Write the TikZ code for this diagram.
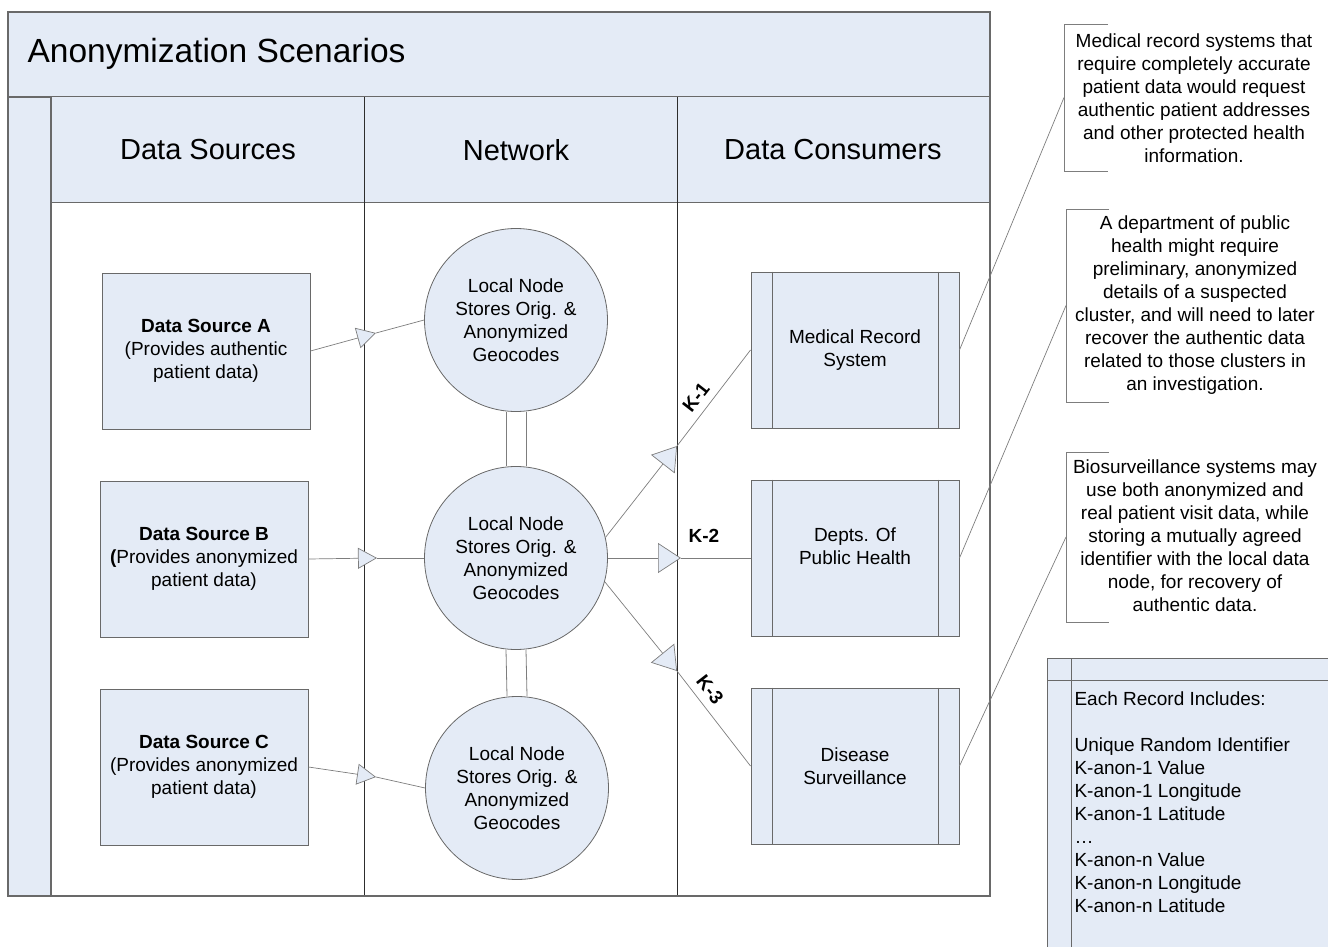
\documentclass[tikz,border=0pt]{standalone}
\usepackage{fontspec}
\setmainfont{Liberation Sans}
\usetikzlibrary{arrows.meta}
\definecolor{paleblue}{RGB}{228,235,246}
\definecolor{edgegray}{RGB}{105,105,105}
\definecolor{linegray}{RGB}{125,125,125}
\definecolor{lanegray}{RGB}{45,45,45}
\newcommand{\bodyfont}{\fontsize{19}{23}\selectfont}
\tikzstyle{srcbox}=[rectangle,draw=edgegray,fill=paleblue,line width=1pt,
                    minimum width=208pt,minimum height=156pt,
                    align=center,font=\bodyfont]
\tikzstyle{localnode}=[circle,draw=edgegray,fill=paleblue,line width=0.8pt,
                       inner sep=0pt,minimum size=183pt,
                       align=center,font=\bodyfont]
\tikzstyle{flow}=[draw=linegray,line width=0.7pt]
\tikzstyle{srcflow}=[flow,-{Triangle[length=19pt,width=21pt,fill=paleblue]}]
\tikzstyle{kflow}=[flow,-{Triangle[length=23pt,width=30pt,fill=paleblue]}]
\tikzstyle{klabel}=[font=\bfseries\fontsize{19}{22}\selectfont,inner sep=1pt]
\tikzstyle{header}=[font=\fontsize{29}{34}\selectfont]
\tikzstyle{note}=[align=center,font=\bodyfont]

\begin{document}
\begin{tikzpicture}[x=1pt,y=-1pt]
    \clip (0,0) rectangle (1328,947);
    % pool and lanes
    \draw[edgegray,fill=paleblue,line width=1.2pt] (8,12) rectangle (990,97);
    \draw[edgegray,fill=paleblue,line width=1.2pt] (8,97) rectangle (51,896);
    \draw[edgegray,fill=paleblue,line width=1pt] (51,97) rectangle (990,202);
    \draw[lanegray,line width=0.8pt] (364,97) -- (364,896) (677,97) -- (677,896);
    \draw[edgegray,line width=1.2pt] (8,12) rectangle (990,896);
    \node (title) at (24,54) [anchor=west,font=\fontsize{33.5}{38}\selectfont]
        {Anonymization Scenarios};
    \node (hsrc) at (208,150) [header]{Data Sources};
    \node (hnet) at (516,150) [header]{Network};
    \node (hcon) at (833,150) [header]{Data Consumers};

    \node (srcA) at (206,351) [srcbox]{\textbf{Data Source A}\\
        (Provides authentic\\ patient data)};
    \node (srcB) at (204,559) [srcbox]{\textbf{Data Source B}\\
        \textbf{(}Provides anonymized\\ patient data)};
    \node (srcC) at (204,767) [srcbox]{\textbf{Data Source C}\\
        (Provides anonymized\\ patient data)};

    \node (lnA) at (516,320) [localnode]{Local Node\\ Stores Orig. \&\\
        Anonymized\\ Geocodes};
    \node (lnB) at (516,558) [localnode]{Local Node\\ Stores Orig. \&\\
        Anonymized\\ Geocodes};
    \node (lnC) at (517,788) [localnode]{Local Node\\ Stores Orig. \&\\
        Anonymized\\ Geocodes};

    \node (med) at (855,350) [srcbox]{Medical Record\\ System};
    \node (dph) at (855,558) [srcbox]{Depts. Of\\ Public Health\\ ~};
    \node (dis) at (855,766) [srcbox]{Disease\\ Surveillance};
    \foreach \n in {med,dph,dis} {
        \draw[edgegray,line width=0.8pt] ([xshift=22pt]\n.north west)
            -- ([xshift=22pt]\n.south west);
        \draw[edgegray,line width=0.8pt] ([xshift=-21pt]\n.north east)
            -- ([xshift=-21pt]\n.south east);
    }

    \foreach \dx in {-10,10} {
        \draw[flow,line width=0.8pt] ([xshift=\dx pt]lnA.south)
            -- ([xshift=\dx pt]lnB.north);
        \draw[flow,line width=0.8pt] ([xshift=\dx pt]lnB.south)
            -- ([xshift=\dx pt]lnC.north);
    }

    \coordinate (tipA) at (376,333);
    \coordinate (tipB) at (377,558);
    \coordinate (tipC) at (376,777);
    \draw[srcflow] (srcA.east) -- (tipA);
    \draw[flow] (tipA) -- (lnA.west);
    \draw[srcflow] (srcB.east) -- (tipB);
    \draw[flow] (tipB) -- (lnB.west);
    \draw[srcflow] (srcC.east) -- (tipC);
    \draw[flow] (tipC) -- (lnC.west);

    \coordinate (tipK1) at (677,446);
    \coordinate (tipK2) at (681,558);
    \coordinate (tipK3) at (677,671);
    \draw[kflow] (lnB.13) -- (tipK1);
    \draw[flow] (tipK1) -- (med.west);
    \draw[kflow] (lnB.east) -- (tipK2);
    \draw[flow] (tipK2) -- (dph.west);
    \draw[kflow] (lnB.-15) -- (tipK3);
    \draw[flow] (tipK3) -- (dis.west);
    \node (k1) at (696,397) [klabel,rotate=52]{K-1};
    \node (k2) at (704,536) [klabel]{K-2};
    \node (k3) at (710,690) [klabel,rotate=-52]{K-3};

    % notes
    \node (noteA) at (1194,98) [note]{Medical record systems that\\
        require completely accurate\\ patient data would request\\
        authentic patient addresses\\ and other protected health\\
        information.};
    \node (noteB) at (1195,305) [note]{A department of public\\
        health might require\\ preliminary, anonymized\\
        details of a suspected\\ cluster, and will need to later\\
        recover the authentic data\\ related to those clusters in\\
        an investigation.};
    \node (noteC) at (1195,536) [note]{Biosurveillance systems may\\
        use both anonymized and\\ real patient visit data, while\\
        storing a mutually agreed\\ identifier with the local data\\
        node, for recovery of\\ authentic data.};
    \coordinate (brA) at (1064,97.5);
    \coordinate (brB) at (1066,305.5);
    \coordinate (brC) at (1066,537);
    \draw[flow] (1108,24) -- (1064,24) -- (1064,171) -- (1108,171);
    \draw[flow] (1109,209) -- (1066,209) -- (1066,402) -- (1109,402);
    \draw[flow] (1109,452) -- (1066,452) -- (1066,622) -- (1109,622);
    \draw[flow] (med.east) -- (brA);
    \draw[flow] (dph.east) -- (brB);
    \draw[flow] (dis.east) -- (brC);

    % record layout
    \draw[edgegray,fill=paleblue,line width=1pt] (1047,658) rectangle (1345,965);
    \draw[edgegray,line width=0.8pt] (1047,680) -- (1345,680);
    \draw[edgegray,line width=0.8pt] (1071,658) -- (1071,965);
    \node (rec) at (1071,688) [anchor=north west,align=left,font=\bodyfont]
        {Each Record Includes:\\[23pt]
        Unique Random Identifier\\ K-anon-1 Value\\ K-anon-1 Longitude\\
        K-anon-1 Latitude\\ …\\ K-anon-n Value\\ K-anon-n Longitude\\
        K-anon-n Latitude};
\end{tikzpicture}
\end{document}
